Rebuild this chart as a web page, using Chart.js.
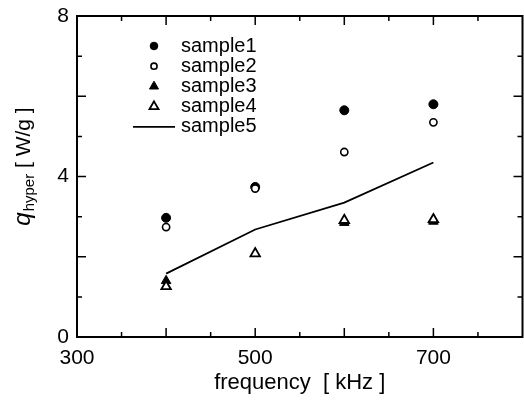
<!DOCTYPE html>
<html><head><meta charset="utf-8">
<script src="https://cdn.jsdelivr.net/npm/chart.js@4/dist/chart.umd.min.js"></script>
<style>html,body{margin:0;padding:0;background:#fff}#wrap{width:524px;height:404px}</style>
</head><body><div id="wrap"><canvas id="c" width="524" height="404"></canvas></div>
<script>
const frequencies = [400, 500, 600, 700];
const sample1 = [2.97, 3.74, 5.65, 5.80];
const sample2 = [2.74, 3.70, 4.61, 5.35];
const sample3 = [1.40, null, 2.85, 2.88];
const sample4 = [1.26, 2.08, 2.91, 2.93];
const sample5 = [1.58, 2.68, 3.35, 4.35];
const seriesNames = ['sample1', 'sample2', 'sample3', 'sample4', 'sample5'];
const xLabels = [300, 500, 700];
const yLabels = [0, 4, 8];

const FONT = '"Liberation Sans", Arial, sans-serif';
const pts = arr => frequencies.map((f, i) => ({x: f, y: arr[i]})).filter(p => p.y !== null);

const datasets = [
  {label: seriesNames[0], data: pts(sample1), showLine: false, pointStyle: 'circle', pointRadius: 4.5, backgroundColor: '#000', borderColor: '#000', borderWidth: 1},
  {label: seriesNames[1], data: pts(sample2), showLine: false, pointStyle: 'circle', pointRadius: 3.6, backgroundColor: '#fff', borderColor: '#000', borderWidth: 1.6},
  {label: seriesNames[2], data: pts(sample3), showLine: false, pointStyle: 'triangle', pointRadius: 5.5, backgroundColor: '#000', borderColor: '#000', borderWidth: 1},
  {label: seriesNames[3], data: pts(sample4), showLine: false, pointStyle: 'triangle', pointRadius: 5.5, backgroundColor: '#fff', borderColor: '#000', borderWidth: 1.8},
  {label: seriesNames[4], data: pts(sample5), showLine: true, pointRadius: 0, borderColor: '#000', borderWidth: 1.8, tension: 0}
];
datasets.forEach((d, i) => { d.order = datasets.length - i; });

const framePlugin = {
  id: 'frame',
  afterDatasetsDraw(chart) {
    const {ctx, chartArea: a, scales: {x, y}} = chart;
    ctx.save();
    ctx.strokeStyle = '#000';
    ctx.lineWidth = 1.5;
    for (let v = 350; v < 800; v += 50) {
      const px = x.getPixelForValue(v);
      const len = (v % 100 === 0) ? 9 : 5;
      ctx.beginPath();
      ctx.moveTo(px, a.bottom); ctx.lineTo(px, a.bottom - len);
      ctx.moveTo(px, a.top); ctx.lineTo(px, a.top + len);
      ctx.stroke();
    }
    for (let v = 1; v < 8; v++) {
      const py = y.getPixelForValue(v);
      const len = (v % 2 === 0) ? 9 : 5;
      ctx.beginPath();
      ctx.moveTo(a.left, py); ctx.lineTo(a.left + len, py);
      ctx.moveTo(a.right, py); ctx.lineTo(a.right - len, py);
      ctx.stroke();
    }
    ctx.lineWidth = 2;
    ctx.strokeRect(a.left, a.top, a.right - a.left, a.bottom - a.top);

    // legend
    const lx = 154, tx = 181;
    ctx.font = '20px ' + FONT;
    ctx.fillStyle = '#000';
    ctx.textBaseline = 'middle';
    ctx.textAlign = 'left';
    datasets.forEach((ds, i) => {
      const ly = 46 + i * 20.2;
      ctx.fillText(ds.label, tx, ly);
      ctx.lineWidth = ds.borderWidth;
      if (ds.showLine) {
        ctx.beginPath(); ctx.moveTo(133, ly); ctx.lineTo(175, ly); ctx.stroke();
      } else {
        ctx.fillStyle = ds.backgroundColor;
        const r = ds.pointStyle === 'circle' ? ds.pointRadius * 0.85 : ds.pointRadius * 0.95;
        Chart.helpers.drawPoint(ctx, {pointStyle: ds.pointStyle, radius: r, borderWidth: ds.borderWidth}, lx, ly);
        ctx.fillStyle = '#000';
      }
    });

    // y-axis title with subscript
    ctx.translate(25, 167);
    ctx.rotate(-Math.PI / 2);
    ctx.textBaseline = 'alphabetic';
    const f1 = 'italic 24px ' + FONT, f2 = '15px ' + FONT, f3 = '21px ' + FONT;
    ctx.font = f1; const w1 = ctx.measureText('q').width;
    ctx.font = f2; const w2 = ctx.measureText('hyper').width;
    ctx.font = f3; const t3 = ' [ W/g ]'; const w3 = ctx.measureText(t3).width;
    let cx = -(w1 + w2 + w3) / 2;
    const base = 5;
    ctx.font = f1; ctx.fillText('q', cx, base); cx += w1 + 1;
    ctx.font = f2; ctx.fillText('hyper', cx, base + 4); cx += w2;
    ctx.font = f3; ctx.fillText(t3, cx, base);
    ctx.restore();
  }
};

new Chart(document.getElementById('c'), {
  type: 'scatter',
  data: {datasets},
  options: {
    responsive: false,
    animation: false,
    events: [],
    layout: {autoPadding: false, padding: {top: 16, right: 1.5, left: 0, bottom: 0}},
    plugins: {legend: {display: false}, tooltip: {enabled: false}},
    scales: {
      x: {
        type: 'linear', min: 300, max: 800,
        grid: {display: false, drawTicks: false},
        border: {display: false},
        afterFit(s) { s.height = 67; s.paddingLeft = 0; s.paddingRight = 0; },
        ticks: {
          stepSize: 50, padding: 9, color: '#000', maxRotation: 0, autoSkip: false,
          font: {family: FONT, size: 21},
          callback: v => xLabels.includes(v) ? String(v) : ''
        },
        title: {display: true, text: 'frequency  [ kHz ]', color: '#000', font: {family: FONT, size: 22}, padding: {top: 2, bottom: 8}}
      },
      y: {
        type: 'linear', min: 0, max: 8,
        grid: {display: false, drawTicks: false},
        border: {display: false},
        afterFit(s) { s.width = 77; s.paddingTop = 0; s.paddingBottom = 0; },
        ticks: {
          stepSize: 1, padding: 8, color: '#000', autoSkip: false,
          font: {family: FONT, size: 21},
          callback: v => yLabels.includes(v) ? String(v) : ''
        }
      }
    }
  },
  plugins: [framePlugin]
});
</script>
</body></html>
